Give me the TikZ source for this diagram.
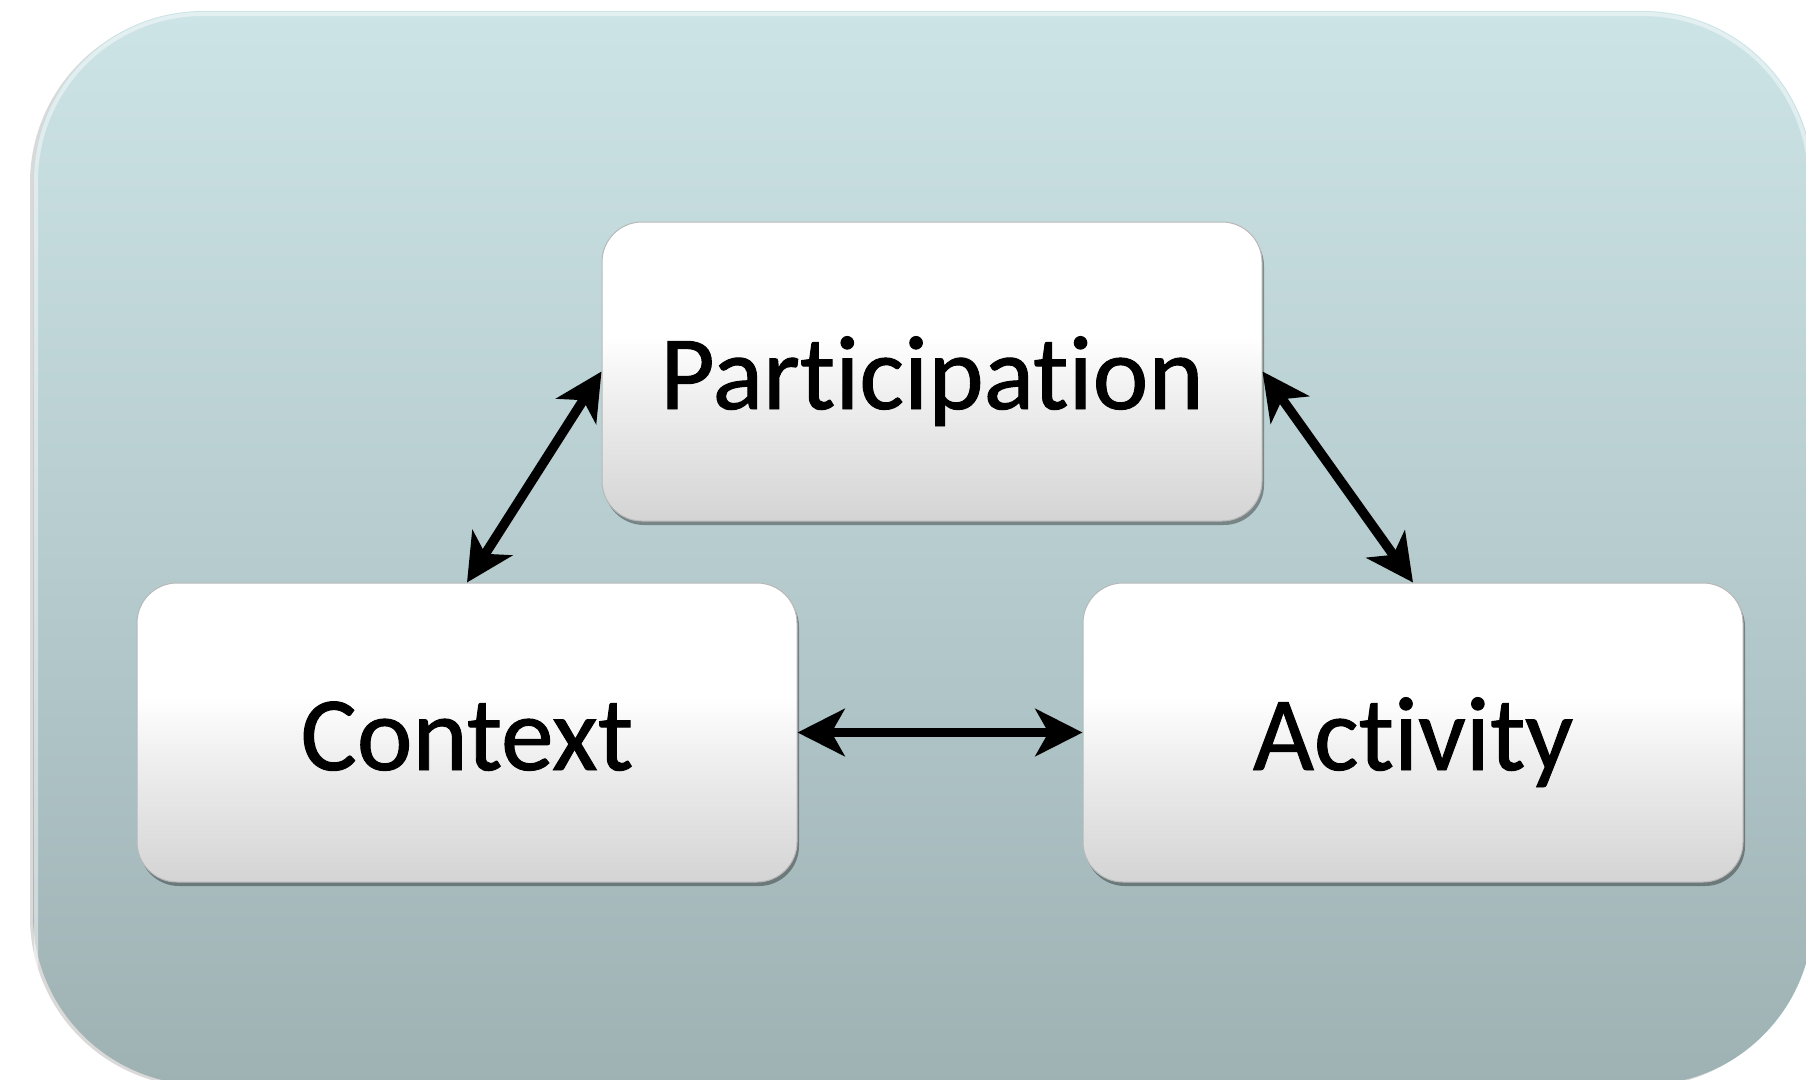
\documentclass[tikz,border=0pt]{standalone}
\usepackage{fontspec}
\setmainfont{Carlito}[Ligatures={NoCommon}]
\newfontfamily\boxfont{Carlito}[Ligatures={NoCommon},FakeBold=0.9]
\usetikzlibrary{arrows.meta,shadows}
\definecolor{bgtop}{RGB}{205,228,231}
\definecolor{bgmid}{RGB}{182,204,207}
\definecolor{bgbot}{RGB}{158,177,179}
\definecolor{boxbot}{RGB}{212,212,212}
\definecolor{boxmid}{RGB}{238,238,238}
\pgfdeclareverticalshading{bgshade}{100bp}{color(0bp)=(bgbot); color(25bp)=(bgbot); color(50bp)=(bgmid); color(75bp)=(bgtop); color(100bp)=(bgtop)}
\pgfdeclareverticalshading{boxshade}{100bp}{color(0bp)=(boxbot); color(25bp)=(boxbot); color(45bp)=(boxmid); color(56bp)=(white); color(100bp)=(white)}
\begin{document}
\begin{tikzpicture}[x=1pt,y=-1pt,
  bigbox/.style={rounded corners=40pt, minimum width=660pt, minimum height=299pt,
    draw=black!28, line width=1pt, shading=boxshade,
    drop shadow={shadow xshift=2pt, shadow yshift=-4pt, opacity=0.35, fill=black},
    font=\boxfont\fontsize{105.5}{120}\selectfont, text height=80pt, text depth=5pt, inner sep=0pt},
  conn/.style={line width=9.5pt,
    {Stealth[length=47pt,width=47pt,inset=13pt]}-{Stealth[length=47pt,width=47pt,inset=13pt]}}]
\useasboundingbox (0,0) rectangle (1806,1079);
\path[shading=bgshade, rounded corners=170pt,
  drop shadow={shadow xshift=-3pt, shadow yshift=-2pt, opacity=0.15, fill=black}]
  (33,11) rectangle (1813,1085);
\draw[white, opacity=0.45, line width=4pt, rounded corners=167pt] (36,1085) -- (36,14) -- (1810,14) -- (1810,1085);
\node[bigbox] (part) at (932,371.5) {Participation};
\node[bigbox] (ctx) at (467,732.5) {Context};
\node[bigbox] (act) at (1413,732.5) {Activity};
\draw[conn] (part.west) -- (ctx.north);
\draw[conn] (part.east) -- (act.north);
\draw[conn] (ctx.east) -- (act.west);
\end{tikzpicture}
\end{document}
